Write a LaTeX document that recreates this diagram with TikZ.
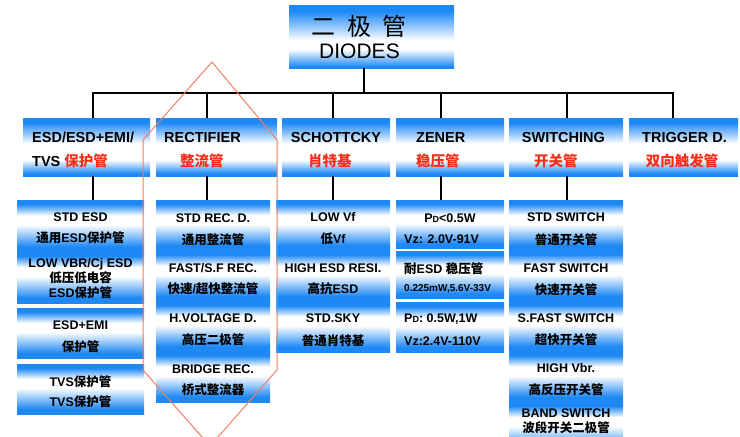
\documentclass[tikz,border=0pt]{standalone}
\usepackage{fontspec}
\setmainfont{Liberation Sans}
\newfontfamily\cjk{Noto Sans CJK SC}
\definecolor{bl}{RGB}{30,136,245}
\definecolor{redt}{RGB}{250,45,25}
\definecolor{orl}{RGB}{240,125,100}
\pgfdeclareverticalshading{topsh}{100bp}{color(0bp)=(bl); color(26bp)=(bl); color(40bp)=(white); color(47bp)=(white); color(70bp)=(bl); color(100bp)=(bl)}
\pgfdeclareverticalshading{lonesh}{100bp}{color(0bp)=(bl); color(27bp)=(bl); color(39bp)=(white); color(53bp)=(white); color(71bp)=(bl); color(100bp)=(bl)}
\pgfdeclareverticalshading{ltwosh}{100bp}{color(0bp)=(bl); color(30bp)=(bl); color(51bp)=(white); color(60bp)=(white); color(71bp)=(bl); color(100bp)=(bl)}
\newcommand{\zh}[1]{{\cjk #1}}
\newcommand{\PD}{P{\fontsize{9}{9}\selectfont D}}
\begin{document}
\begin{tikzpicture}[x=1pt,y=-1pt,
  box/.style={draw=none, inner sep=0pt, outer sep=0pt, anchor=north west},
  topbox/.style={box, shading=topsh},
  onebox/.style={box, shading=lonesh, minimum height=58pt},
  sec/.style={box, shading=ltwosh},
  conn/.style={draw=black, line width=1.8pt},
  tone/.style={font=\bfseries\fontsize{14.5}{14.5}\selectfont, inner sep=0pt, text height=10.4pt, text depth=0pt, anchor=west},
  tred/.style={tone, text=redt},
  ttwo/.style={font=\bfseries\fontsize{12.5}{12.5}\selectfont, inner sep=0pt, text height=9pt, text depth=0pt},
  ttwol/.style={ttwo, anchor=west},
]
\useasboundingbox (0,0) rectangle (740,437);
\clip (0,0) rectangle (740,437);
% ---------- boxes
\node[topbox, minimum width=165pt, minimum height=63pt] (top) at (289,5) {};
\node[onebox, minimum width=127pt] (b1) at (23,118) {};
\node[onebox, minimum width=121pt] (b2) at (156,118) {};
\node[onebox, minimum width=108pt] (b3) at (282,118) {};
\node[onebox, minimum width=108pt] (b4) at (396,118) {};
\node[onebox, minimum width=114pt] (b5) at (509,118) {};
\node[onebox, minimum width=109pt] (b6) at (629,118) {};
% column 1
\node[sec, minimum width=127pt, minimum height=52pt] (c1a) at (17,200) {};
\node[sec, minimum width=127pt, minimum height=51pt] (c1b) at (17,252) {};
\node[sec, minimum width=127pt, minimum height=50pt] (c1c) at (17,308) {};
\node[sec, minimum width=127pt, minimum height=50pt] (c1d) at (17,364) {};
% column 2
\node[sec, minimum width=114pt, minimum height=50.5pt] (c2a) at (156,200) {};
\node[sec, minimum width=114pt, minimum height=50.5pt] (c2b) at (156,250.5) {};
\node[sec, minimum width=114pt, minimum height=50.5pt] (c2c) at (156,301) {};
\node[sec, minimum width=114pt, minimum height=50.5pt] (c2d) at (156,351.5) {};
% column 3
\node[sec, minimum width=114pt, minimum height=50.7pt] (c3a) at (276,200) {};
\node[sec, minimum width=114pt, minimum height=50.7pt] (c3b) at (276,250.7) {};
\node[sec, minimum width=114pt, minimum height=50.7pt] (c3c) at (276,301.4) {};
% column 4
\node[sec, minimum width=108pt, minimum height=48.7pt] (c4a) at (396,200) {};
\node[sec, minimum width=108pt, minimum height=47.3pt] (c4b) at (396,251) {};
\node[sec, minimum width=108pt, minimum height=49.3pt] (c4c) at (396,302.7) {};
% column 5
\node[sec, minimum width=114pt, minimum height=50.5pt] (c5a) at (509,200) {};
\node[sec, minimum width=114pt, minimum height=50.5pt] (c5b) at (509,250.5) {};
\node[sec, minimum width=114pt, minimum height=50.5pt] (c5c) at (509,301) {};
\node[sec, minimum width=114pt, minimum height=50.5pt] (c5d) at (509,351.5) {};
\node[sec, minimum width=114pt, minimum height=50.5pt] (c5e) at (509,402) {};
% ---------- connectors
\coordinate (j0) at (364,93);
\coordinate (j1) at (93,93);
\coordinate (j2) at (207,93);
\coordinate (j3) at (333,93);
\coordinate (j4) at (441,93);
\coordinate (j5) at (567,93);
\coordinate (j6) at (673,93);
\draw[conn] (j0 |- top.south) -- (j0);
\draw[conn, line cap=rect] (j1) -- (j6);
\draw[conn] (j1) -- (j1 |- b1.north);
\draw[conn] (j2) -- (j2 |- b2.north);
\draw[conn] (j3) -- (j3 |- b3.north);
\draw[conn] (j4) -- (j4 |- b4.north);
\draw[conn] (j5) -- (j5 |- b5.north);
\draw[conn] (j6) -- (j6 |- b6.north);
\draw[conn] (j1 |- b1.south) -- (j1 |- c1a.north);
\draw[conn] (j2 |- b2.south) -- (j2 |- c2a.north);
\draw[conn] (j3 |- b3.south) -- (j3 |- c3a.north);
\draw[conn] (j4 |- b4.south) -- (j4 |- c4a.north);
\draw[conn] (j5 |- b5.south) -- (j5 |- c5a.north);
% ---------- texts: top
\node[font=\cjk\fontsize{24}{24}\selectfont, inner sep=0pt] (tz) at (359.5,26) {二\hspace{0.48em}极\hspace{0.48em}管};
\node[font=\fontsize{21}{21}\selectfont, inner sep=0pt] (te) at (359.5,51) {DIODES};
% level 1
\node[tone] (b1t1) at (32,137) {ESD/ESD+EMI/};
\node[tone] (b1t2) at (32,161) {TVS \textcolor{redt}{\zh{保护管}}};
\node[tone] (b2t1) at (164,137) {RECTIFIER};
\node[tred] (b2t2) at (180,161) {\zh{整流管}};
\node[tone] (b3t1) at (290.7,137) {SCHOTTCKY};
\node[tred] (b3t2) at (308,161) {\zh{肖特基}};
\node[tone] (b4t1) at (416,137) {ZENER};
\node[tred] (b4t2) at (416,161) {\zh{稳压管}};
\node[tone] (b5t1) at (521.7,137) {SWITCHING};
\node[tred] (b5t2) at (534,161) {\zh{开关管}};
\node[tone] (b6t1) at (642,137) {TRIGGER D.};
\node[tred] (b6t2) at (645.7,161) {\zh{双向触发管}};
% column 1
\node[ttwo] (c1t1) at (80.5,217) {STD ESD};
\node[ttwo] (c1t2) at (80.5,238) {\zh{通用}ESD\zh{保护管}};
\node[ttwo] (c1t3) at (80.5,262.7) {LOW VBR/Cj ESD};
\node[ttwo] (c1t4) at (80.5,278) {\zh{低压低电容}};
\node[ttwo] (c1t5) at (80.5,293) {ESD\zh{保护管}};
\node[ttwo] (c1t6) at (80.5,325) {ESD+EMI};
\node[ttwo] (c1t7) at (80.5,347) {\zh{保护管}};
\node[ttwo] (c1t8) at (80.5,382) {TVS\zh{保护管}};
\node[ttwo] (c1t9) at (80.5,402) {TVS\zh{保护管}};
% column 2
\node[ttwo] (c2t1) at (213,218) {STD REC. D.};
\node[ttwo] (c2t2) at (213,240) {\zh{通用整流管}};
\node[ttwo] (c2t3) at (213,268) {FAST/S.F REC.};
\node[ttwo] (c2t4) at (213,289) {\zh{快速}/\zh{超快整流管}};
\node[ttwo] (c2t5) at (213,318) {H.VOLTAGE D.};
\node[ttwo] (c2t6) at (213,340) {\zh{高压二极管}};
\node[ttwo] (c2t7) at (213,369) {BRIDGE REC.};
\node[ttwo] (c2t8) at (213,390) {\zh{桥式整流器}};
% column 3
\node[ttwo] (c3t1) at (333,217) {LOW Vf};
\node[ttwo] (c3t2) at (333,239) {\zh{低}Vf};
\node[ttwo] (c3t3) at (333,268) {HIGH ESD RESI.};
\node[ttwo] (c3t4) at (333,289) {\zh{高抗}ESD};
\node[ttwo] (c3t5) at (333,318) {STD.SKY};
\node[ttwo] (c3t6) at (333,341) {\zh{普通肖特基}};
% column 4
\node[ttwo] (c4t1) at (450,218) {\PD<0.5W};
\node[ttwol] (c4t2) at (404,239) {Vz: 2.0V-91V};
\node[ttwol] (c4t3) at (404,269) {\zh{耐}ESD \zh{稳压管}};
\node[ttwol, font=\bfseries\fontsize{10}{10}\selectfont, text height=7.2pt] (c4t4) at (404,288) {0.225mW,5.6V-33V};
\node[ttwol] (c4t5) at (404,318) {\PD: 0.5W,1W};
\node[ttwol] (c4t6) at (404,341) {Vz:2.4V-110V};
% column 5
\node[ttwo] (c5t1) at (566,217) {STD SWITCH};
\node[ttwo] (c5t2) at (566,240) {\zh{普通开关管}};
\node[ttwo] (c5t3) at (566,268) {FAST SWITCH};
\node[ttwo] (c5t4) at (566,290) {\zh{快速开关管}};
\node[ttwo] (c5t5) at (566,318) {S.FAST SWITCH};
\node[ttwo] (c5t6) at (566,340) {\zh{超快开关管}};
\node[ttwo] (c5t7) at (566,368) {HIGH Vbr.};
\node[ttwo] (c5t8) at (566,390) {\zh{高反压开关管}};
\node[ttwo] (c5t9) at (566,413) {BAND SWITCH};
\node[ttwo] (c5t10) at (566,428) {\zh{波段开关二极管}};
% ---------- orange outline
\draw[orl, line width=1pt, line join=miter] (212,62) -- (143,140) -- (143,370) -- (210,446) -- (277,370) -- (277,140) -- cycle;
\end{tikzpicture}
\end{document}
